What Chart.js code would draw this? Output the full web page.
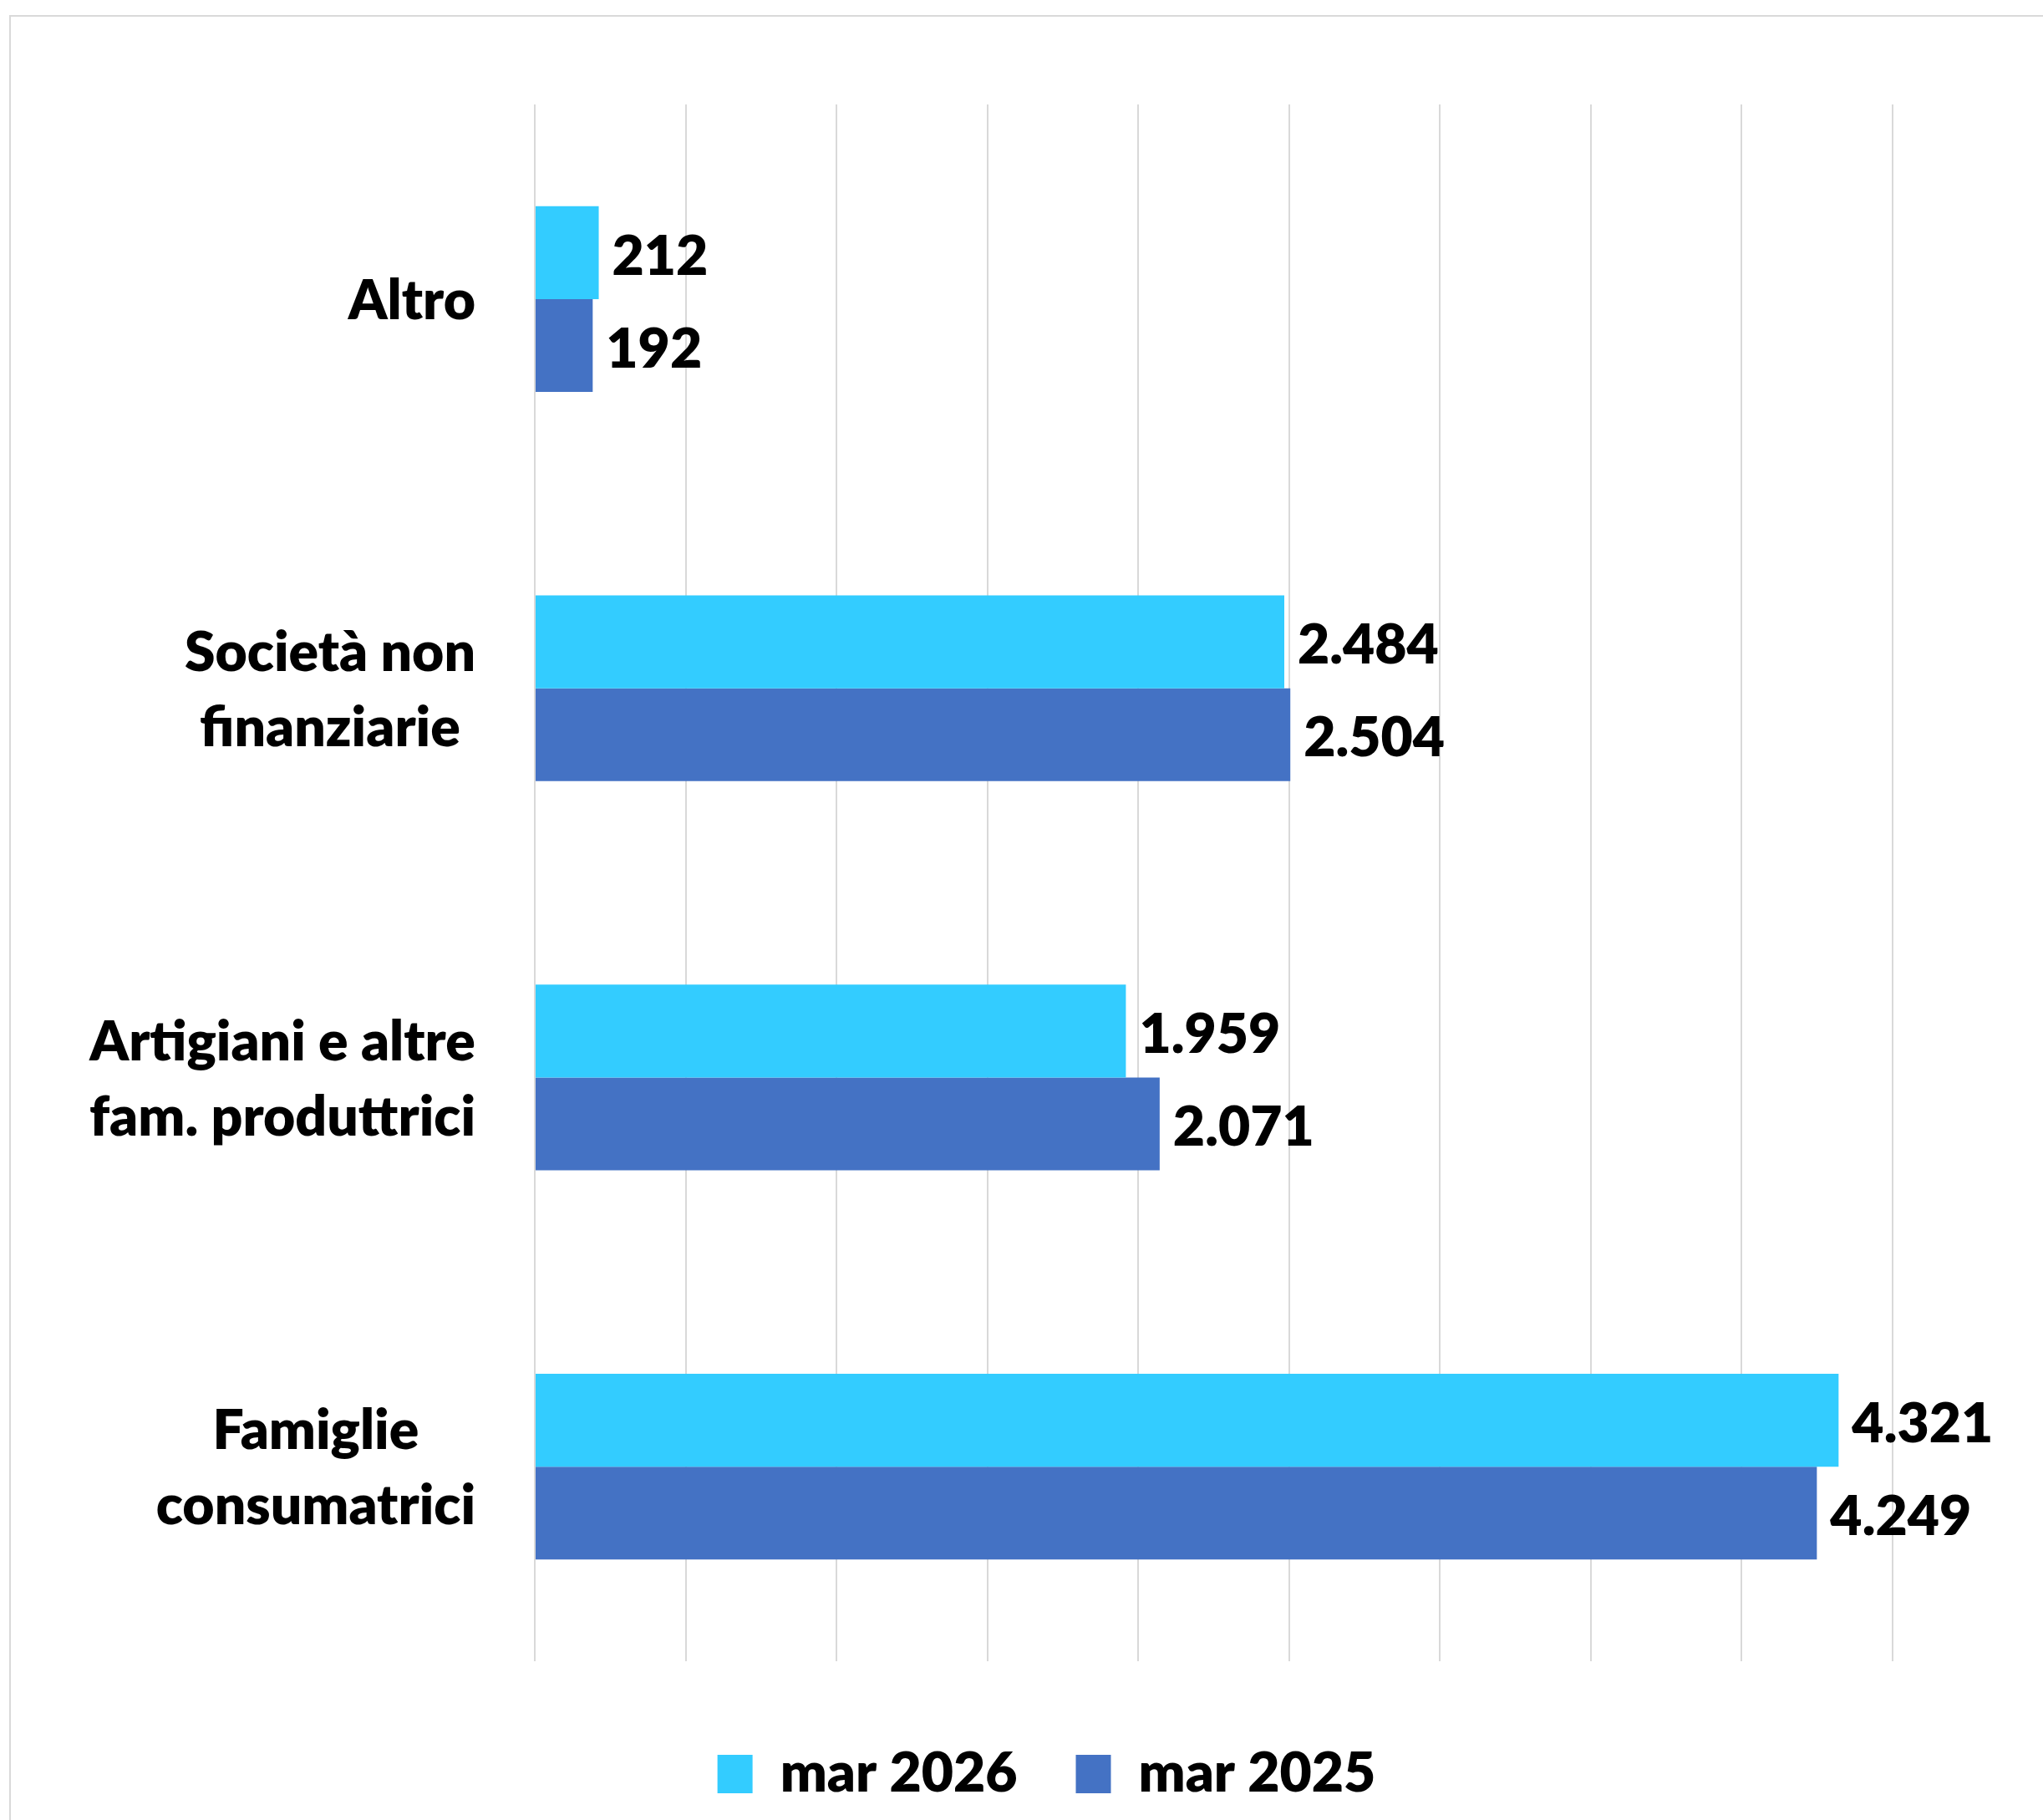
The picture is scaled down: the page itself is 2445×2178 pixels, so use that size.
<!DOCTYPE html>
<html>
<head>
<meta charset="utf-8">
<script src="https://cdn.jsdelivr.net/npm/chart.js@4.4.1/dist/chart.umd.min.js"></script>
<style>
html, body { margin: 0; padding: 0; background: #fff; }
#wrap { position: relative; width: 2445px; height: 2178px; overflow: hidden; }
#frame { position: absolute; left: 11px; top: 18px; width: 2460px; height: 2200px; border: 2px solid #d9d9d9; box-sizing: border-box; }
canvas { position: absolute; left: 0; top: 0; }
</style>
</head>
<body>
<div id="wrap">
  <div id="frame"></div>
  <canvas id="chart" width="2445" height="2178"></canvas>
</div>
<script>
// categories (top to bottom), each split in lines as in the picture
var categories = [
  ['Altro'],
  ['Società non', 'finanziarie'],
  ['Artigiani e altre', 'fam. produttrici'],
  ['Famiglie', 'consumatrici']
];
var mar2026 = [212, 2484, 1959, 4321];
var mar2025 = [192, 2504, 2071, 4249];
var seriesNames = ['mar 2026', 'mar 2025'];

var FONT = 'Lato';
var WEIGHT = '800';

// 4321 -> "4.321"
function fmt(v) {
  return String(v).replace(/\B(?=(\d{3})+(?!\d))/g, '.');
}

// numbers at the end of each bar
var valueLabels = {
  id: 'valueLabels',
  afterDatasetsDraw: function(chart) {
    var ctx = chart.ctx;
    ctx.save();
    ctx.font = WEIGHT + ' 66px ' + FONT;
    ctx.fillStyle = '#000';
    ctx.textAlign = 'left';
    ctx.textBaseline = 'middle';
    chart.data.datasets.forEach(function(ds, i) {
      chart.getDatasetMeta(i).data.forEach(function(bar, j) {
        ctx.fillText(fmt(ds.data[j]), bar.x + 16, bar.y + 5);
      });
    });
    ctx.restore();
  }
};

// category names, lines centred inside a right-aligned block
var catLabels = {
  id: 'catLabels',
  afterDraw: function(chart) {
    var ctx = chart.ctx;
    var yScale = chart.scales.y;
    var right = chart.chartArea.left - 71;
    var lh = 90;
    ctx.save();
    ctx.font = WEIGHT + ' 66px ' + FONT;
    ctx.fillStyle = '#000';
    ctx.textAlign = 'center';
    ctx.textBaseline = 'middle';
    categories.forEach(function(lines, i) {
      var w = Math.max.apply(null, lines.map(function(l) { return ctx.measureText(l).width; }));
      var cx = right - w / 2;
      var cy = yScale.getPixelForValue(i);
      lines.forEach(function(l, k) {
        ctx.fillText(l, cx, cy + (k - (lines.length - 1) / 2) * lh + 3);
      });
    });
    ctx.restore();
  }
};

var chart = new Chart(document.getElementById('chart'), {
  type: 'bar',
  data: {
    labels: categories.map(function(c) { return c.join(' '); }),
    datasets: [
      { label: seriesNames[0], data: mar2026, backgroundColor: '#33CCFF' },
      { label: seriesNames[1], data: mar2025, backgroundColor: '#4472C4' }
    ]
  },
  options: {
    indexAxis: 'y',
    responsive: false,
    animation: false,
    devicePixelRatio: 1,
    datasets: {
      bar: { categoryPercentage: 0.477, barPercentage: 1 }
    },
    layout: { padding: { top: 125, left: 60, right: 0, bottom: 12 } },
    plugins: {
      tooltip: { enabled: false },
      legend: {
        position: 'bottom',
        labels: {
          boxWidth: 42,
          boxHeight: 46,
          padding: 70,
          color: '#000',
          font: { family: FONT, size: 66, weight: WEIGHT }
        }
      }
    },
    scales: {
      x: {
        type: 'linear',
        min: 0,
        max: 4500,
        ticks: { display: false, stepSize: 500 },
        grid: { color: '#d9d9d9', lineWidth: 2, drawTicks: false },
        border: { display: false },
        afterFit: function(s) { s.height = 32; }
      },
      y: {
        grid: { display: false },
        ticks: { display: false },
        border: { display: false },
        afterFit: function(s) { s.width = 580; }
      },
      y2: {
        type: 'linear',
        position: 'right',
        grid: { display: false },
        ticks: { display: false },
        border: { display: false },
        afterFit: function(s) { s.width = 180; }
      }
    }
  },
  plugins: [valueLabels, catLabels]
});
</script>
</body>
</html>
